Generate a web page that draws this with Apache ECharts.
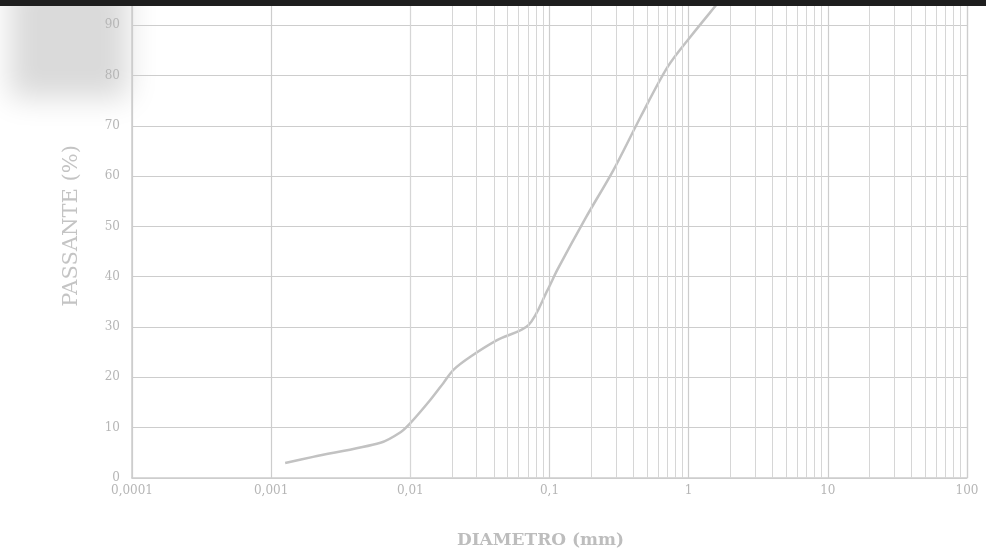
<!DOCTYPE html>
<html>
<head>
<meta charset="utf-8">
<script src="https://cdn.jsdelivr.net/npm/echarts@6/dist/echarts.min.js"></script>
<style>
html,body{margin:0;padding:0;background:#fff;}
#chart{width:986px;height:551px;}
</style>
</head>
<body>
<div id="chart"></div>
<script>
// Data
var diameter = [0.00126, 0.002, 0.0061, 0.0085, 0.010, 0.0139, 0.0173, 0.0204, 0.027, 0.042, 0.0706, 0.097, 0.114, 0.182, 0.288, 0.452, 0.706, 1.03, 1.62, 2.0];
var passing  = [3.0, 4.2, 7.0, 9.1, 10.9, 15.5, 18.9, 21.5, 24.1, 27.4, 30.4, 37.4, 41.4, 51.7, 61.2, 71.8, 81.7, 87.7, 94.4, 97.5];
var xTickValues = [0.0001, 0.001, 0.01, 0.1, 1, 10, 100];
var xTickLabels = ['0,0001', '0,001', '0,01', '0,1', '1', '10', '100'];
var yTickValues = [0, 10, 20, 30, 40, 50, 60, 70, 80, 90];
var minorMultipliers = [2, 3, 4, 5, 6, 7, 8, 9];

var seriesData = diameter.map(function (d, i) { return [d, passing[i]]; });

var minorLines = [];
xTickValues.slice(0, -1).forEach(function (dec) {
  minorMultipliers.forEach(function (m) { minorLines.push({ xAxis: m * dec }); });
});

function fmtX(v) {
  for (var i = 0; i < xTickValues.length; i++) {
    if (Math.abs(Math.log10(v) - Math.log10(xTickValues[i])) < 1e-6) return xTickLabels[i];
  }
  return '';
}
function fmtY(v) {
  return yTickValues.indexOf(Math.round(v * 1000) / 1000) >= 0 ? String(v) : '';
}

var gridColor = '#cdcdcd';
var textColor = '#b6b6b6';
var serif = '"DejaVu Serif", "Liberation Serif", serif';

var chart = echarts.init(document.getElementById('chart'), null, { renderer: 'canvas' });
chart.setOption({
  backgroundColor: '#ffffff',
  animation: false,
  graphic: [
    {
      type: 'rect', z: -10, silent: true,
      shape: { x: -2000 + 10, y: -20, width: 118, height: 118 },
      style: {
        fill: '#d8d8d8',
        shadowBlur: 28,
        shadowOffsetX: 2000,
        shadowColor: 'rgba(218,218,218,1)'
      }
    },
    {
      type: 'rect', z: 100, silent: true,
      shape: { x: 0, y: 0, width: 986, height: 6 },
      style: { fill: '#1e1e1e' }
    }
  ],
  grid: { left: 132, right: 19, top: 0, bottom: 73, containLabel: false, outerBoundsMode: 'none' },
  xAxis: {
    type: 'log', logBase: 10, min: 0.0001, max: 100,
    name: 'DIAMETRO (mm)', nameLocation: 'middle', nameGap: 54,
    nameTextStyle: { color: '#bdbdbd', fontFamily: serif, fontSize: 17, fontWeight: 'bold', padding: [0, 18, 0, 0] },
    axisLine: { show: true, lineStyle: { color: gridColor, width: 1.5 } },
    axisTick: { show: false },
    axisLabel: { color: textColor, fontFamily: serif, fontSize: 12, margin: 7, formatter: fmtX },
    splitLine: { show: true, lineStyle: { color: gridColor, width: 1.2 } }
  },
  yAxis: {
    type: 'value', min: 0, max: 95, interval: 10,
    name: 'PASSANTE (%)', nameLocation: 'middle', nameGap: 50, nameRotate: 90,
    nameTextStyle: { color: '#c4c4c4', fontFamily: serif, fontSize: 21, padding: [0, 0, 0, 26] },
    axisLine: { show: true, lineStyle: { color: gridColor, width: 1.5 } },
    axisTick: { show: false },
    axisLabel: { color: textColor, fontFamily: serif, fontSize: 12, margin: 12, formatter: fmtY },
    splitLine: { show: true, lineStyle: { color: gridColor, width: 1.2 } }
  },
  series: [
    {
      type: 'line',
      data: seriesData,
      smooth: 0.3,
      showSymbol: false,
      lineStyle: { color: '#c2c2c2', width: 2.5 },
      markLine: {
        silent: true, symbol: 'none', animation: false,
        label: { show: false },
        lineStyle: { color: '#d6d6d6', width: 1, type: 'solid' },
        data: minorLines
      }
    },
    {
      type: 'line', data: [], markLine: {
        silent: true, symbol: 'none', label: { show: false },
        lineStyle: { color: gridColor, width: 1.2, type: 'solid' },
        data: [{ xAxis: 100 }]
      }
    }
  ]
});
</script>
</body>
</html>
